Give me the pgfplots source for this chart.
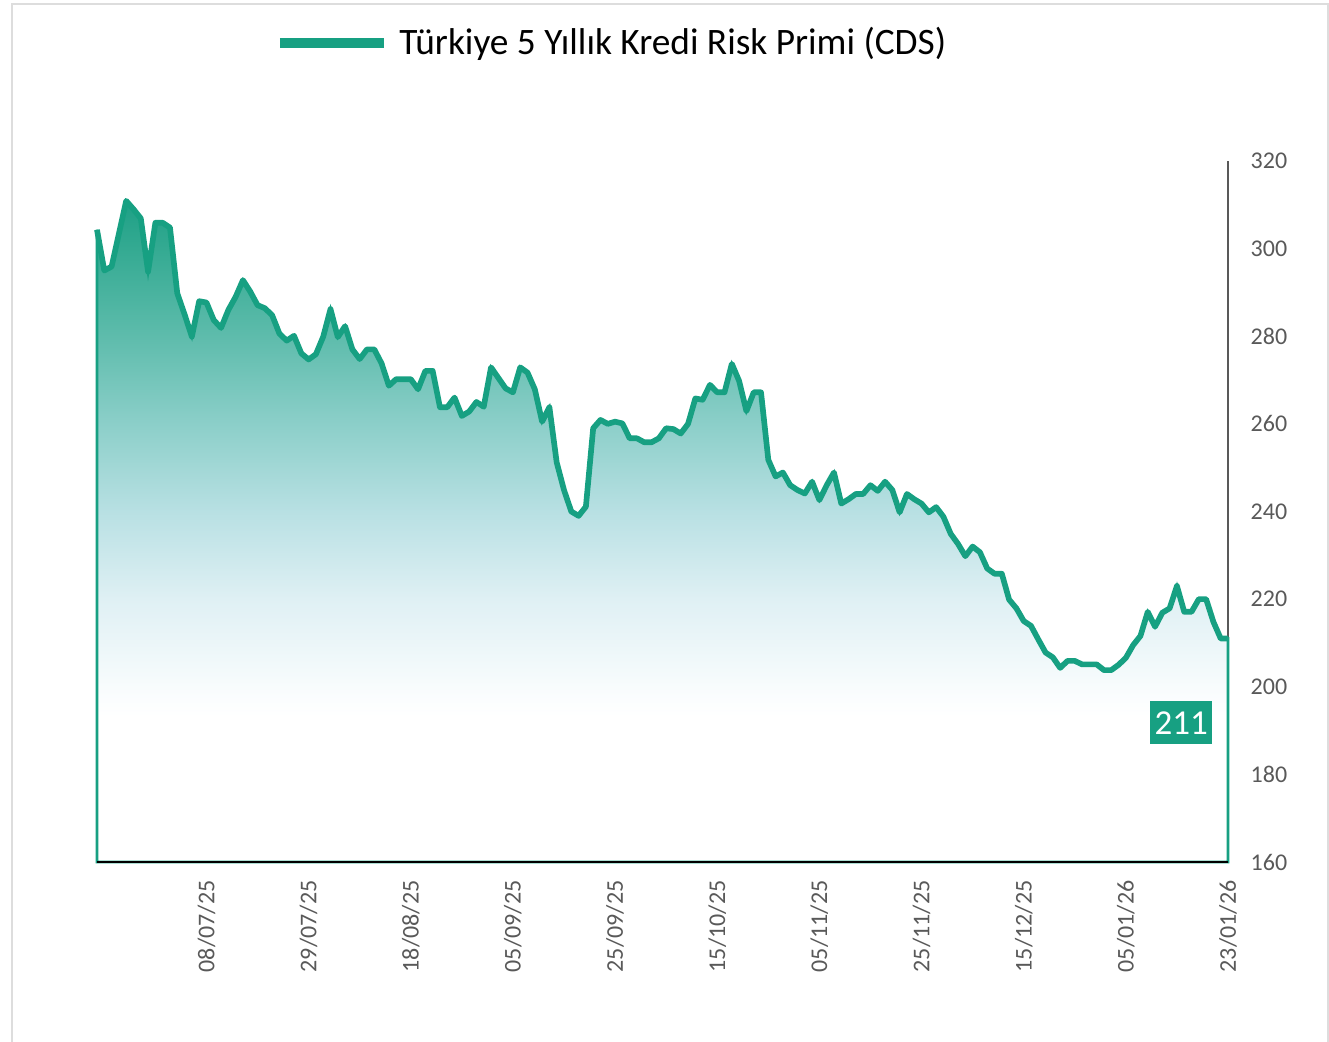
\documentclass[border=0pt]{standalone}
\usepackage{fontspec}
\setmainfont{Carlito}
\usepackage{pgfplots}
\pgfplotsset{compat=1.18}
\usepackage{pgfplotstable}
\definecolor{cdsgreen}{HTML}{17A082}
\definecolor{ticktext}{HTML}{595959}
\definecolor{framegray}{HTML}{DDDDDD}
\definecolor{sA}{HTML}{F8FCFD}
\definecolor{sB}{HTML}{DFF0F4}
\definecolor{sC}{HTML}{B8E0E3}
\definecolor{sD}{HTML}{8CCFC9}
\definecolor{sE}{HTML}{5EBCAC}
\definecolor{sF}{HTML}{34AA92}
\definecolor{sG}{HTML}{1DA085}
\pgfdeclareverticalshading{cdsshade}{100bp}{color(0bp)=(white); color(36bp)=(white); color(38.2bp)=(sA); color(44.9bp)=(sB); color(51.5bp)=(sC); color(58.1bp)=(sD); color(64.7bp)=(sE); color(71.4bp)=(sF); color(75bp)=(sG); color(100bp)=(sG)}

\pgfplotstableread{
i v
0 304.3
1 295.0
2 295.9
3 303.4
4 310.9
5 309.0
6 306.9
7 294.7
8 305.9
9 305.9
10 304.8
11 289.8
12 285.0
13 279.9
14 288.0
15 287.7
16 283.7
17 281.9
18 286.0
19 289.0
20 292.8
21 290.2
22 287.1
23 286.4
24 284.8
25 280.6
26 279.0
27 280.1
28 276.1
29 274.7
30 275.9
31 279.9
32 286.2
33 279.8
34 282.3
35 277.0
36 274.8
37 277.0
38 277.0
39 273.8
40 268.7
41 270.2
42 270.2
43 270.2
44 267.9
45 272.1
46 272.1
47 263.8
48 263.8
49 266.0
50 261.8
51 262.8
52 265.0
53 263.9
54 272.9
55 270.5
56 268.1
57 267.2
58 272.9
59 271.7
60 267.9
61 260.5
62 263.8
63 251.2
64 244.9
65 240.0
66 239.0
67 241.1
68 259.0
69 260.9
70 260.0
71 260.5
72 260.1
73 256.7
74 256.7
75 255.8
76 255.8
77 256.7
78 259.0
79 258.8
80 257.8
81 260.0
82 265.8
83 265.5
84 268.9
85 267.2
86 267.2
87 273.7
88 269.8
89 262.9
90 267.2
91 267.2
92 251.8
93 248.0
94 248.9
95 246.0
96 244.9
97 244.1
98 246.8
99 242.6
100 246.0
101 248.9
102 241.8
103 242.8
104 244.0
105 244.0
106 246.0
107 244.7
108 246.8
109 244.9
110 239.8
111 244.0
112 242.8
113 241.8
114 239.8
115 241.0
116 238.8
117 234.9
118 232.6
119 229.8
120 232.0
121 230.7
122 227.0
123 225.8
124 225.8
125 219.9
126 217.9
127 215.0
128 213.9
129 210.8
130 207.8
131 206.7
132 204.3
133 205.9
134 205.9
135 205.1
136 205.1
137 205.1
138 203.8
139 203.8
140 205.0
141 206.6
142 209.5
143 211.6
144 217.1
145 213.7
146 216.9
147 217.9
148 223.0
149 217.1
150 217.1
151 220.0
152 220.0
153 214.8
154 211.0
155 211.0
}\cdsdata

\begin{document}
\begin{tikzpicture}
\path[use as bounding box] (0,0) rectangle (398.7pt,312.6pt);
\draw[framegray, line width=0.45pt] (3.6pt,0pt) -- (3.6pt,311.4pt) -- (398.4pt,311.4pt) -- (398.4pt,0pt);
\begin{axis}[
  at={(29.1pt,54pt)}, anchor=south west,
  scale only axis, width=339.3pt, height=210.3pt,
  xmin=0, xmax=155, ymin=160, ymax=320,
  clip=false,
  axis x line*=bottom, axis y line*=right,
  x axis line style={black, line width=0.7pt, -},
  y axis line style={ticktext, line width=0.6pt, -},
  major tick length=0pt,
  xtick={15,29,43,57,71,85,99,113,127,141,155},
  xticklabels={08/07/25,29/07/25,18/08/25,05/09/25,25/09/25,15/10/25,05/11/25,25/11/25,15/12/25,05/01/26,23/01/26},
  xticklabel style={rotate=90, anchor=east, text=ticktext, font=\fontsize{7.2}{8}\selectfont, inner sep=0pt, xshift=-5.4pt},
  ytick={160,180,...,320},
  yticklabel style={anchor=west, text=ticktext, font=\fontsize{7.2}{8}\selectfont, inner sep=0pt, xshift=6.6pt},
  /pgf/number format/assume math mode=true,
  legend style={at={(0.457,1.168)}, anchor=center, draw=none, fill=none, font=\fontsize{11.2}{13}\selectfont},
  legend image code/.code={\draw[line width=3pt, cdsgreen] (0pt,0pt) -- (31.2pt,0pt); \path[draw=none] (0pt,0pt) -- (33.9pt,0pt);},
]
\addplot[draw=cdsgreen, line width=0.8pt, shading=cdsshade, forget plot] table[x=i, y=v] {\cdsdata} -- (axis cs:155,160) -- (axis cs:0,160) -- cycle;
\addplot[cdsgreen, line width=1.7pt, line join=round, mark=none] table[x=i, y=v] {\cdsdata};
\addlegendentry{Türkiye 5 Yıllık Kredi Risk Primi (CDS)}
\draw[black, line width=0.7pt] (axis cs:0,160) -- (axis cs:155,160);
\node[fill=cdsgreen, text=white, minimum width=18.6pt, minimum height=12.9pt, inner sep=0pt, font=\fontsize{10.5}{12}\selectfont] at (axis cs:148.6,191.8) {211};
\end{axis}
\end{tikzpicture}
\end{document}
